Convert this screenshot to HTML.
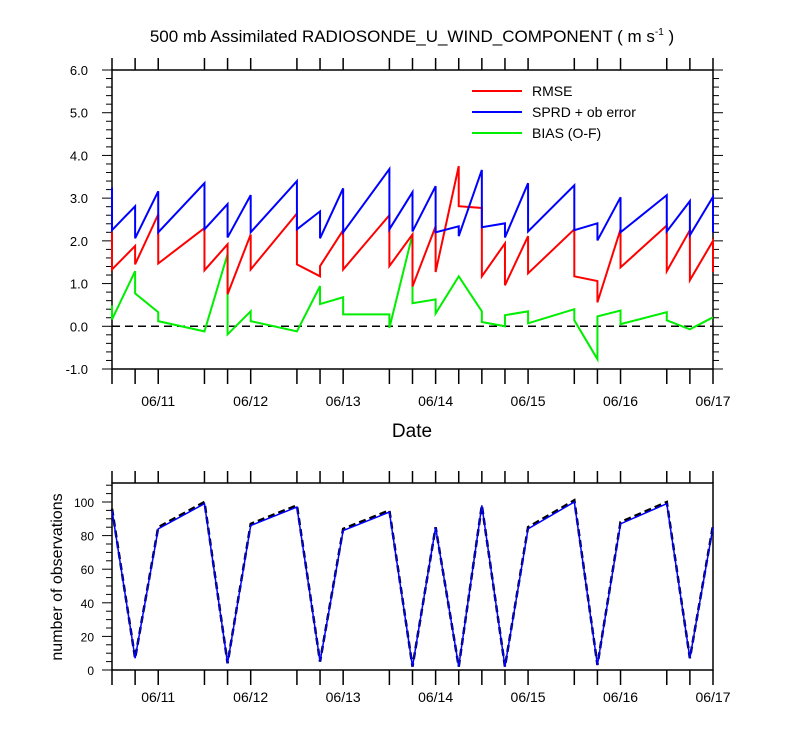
<!DOCTYPE html>
<html><head><meta charset="utf-8"><style>
body{margin:0;background:#fff;}
svg text{font-family:"Liberation Sans",sans-serif;fill:#000;}
</style></head><body>
<svg id="c" width="800" height="750" xmlns="http://www.w3.org/2000/svg"></svg>
<script>
// hours since 06/10 12Z
const times=[0,6,12,24,30,36,48,54,60,72,78,84,90,96,102,108,120,126,132,144,150,156];
const rmseArrive=[2.2,1.88,2.62,2.3,1.92,2.15,2.64,1.17,2.25,2.6,2.15,2.34,3.75,2.77,1.94,2.11,2.27,1.06,2.27,2.36,2.25,2.0];
const rmseDepart=[1.33,1.45,1.47,1.31,0.75,1.33,1.45,1.41,1.33,1.41,0.93,1.27,2.81,1.17,0.96,1.24,1.17,0.56,1.38,1.29,1.08,1.27];
const sprdArrive=[3.25,2.81,3.16,3.35,2.86,3.07,3.4,2.69,3.23,3.68,3.14,3.28,2.34,3.66,2.41,3.35,3.3,2.41,3.02,3.07,2.93,3.03];
const sprdDepart=[2.25,2.06,2.2,2.27,2.08,2.2,2.27,2.06,2.2,2.27,2.22,2.2,2.11,2.32,2.08,2.22,2.25,2.01,2.2,2.22,2.13,2.2];
const biasArrive=[0.49,1.29,0.33,-0.12,1.69,0.35,-0.12,0.94,0.68,0.28,2.15,0.63,1.17,0.35,0.0,0.35,0.4,-0.77,0.37,0.33,-0.07,0.21];
const biasDepart=[0.16,0.77,0.12,-0.12,-0.19,0.12,-0.12,0.52,0.28,-0.04,0.54,0.3,1.17,0.1,0.26,0.07,0.14,0.23,0.05,0.14,-0.07,0.21];
const obsUsed=[95,7,84,99,4,86,97,5,83,94,2,85,2,98,2,84,100,3,87,99,7,85];
const obsTotal=[96,7,85,100,4,87,98,5,84,95,2,85,2,98,2,85,101,3,88,100,7,86];
const yTicksTop=["-1.0","0.0","1.0","2.0","3.0","4.0","5.0","6.0"];
const yTicksBot=["0","20","40","60","80","100"];
const dateLabels=["06/11","06/12","06/13","06/14","06/15","06/16","06/17"];

const svg=document.getElementById('c');
const NS="http://www.w3.org/2000/svg";
function mk(tag,attrs,parent){const e=document.createElementNS(NS,tag);for(const k in attrs)e.setAttribute(k,attrs[k]);(parent||svg).appendChild(e);return e;}
const X0=112,X1=713;
function xs(h){return X0+(h)*(X1-X0)/156;}
const T0=70,T1=369; function yt(v){return T1-(v+1)*(T1-T0)/7;}
const B0=483,B1=670; function yb(v){return B1-v*1.68;}

// title
let t=mk('text',{x:412,y:42,'text-anchor':'middle','font-size':17});

t.innerHTML='500 mb Assimilated RADIOSONDE_U_WIND_COMPONENT ( m s<tspan dy="-7" font-size="10">-1</tspan><tspan dy="7"> )</tspan>';

function frame(top,bot,name,off){
  let r=mk('rect',{x:X0,y:top,width:X1-X0,height:bot-top,fill:'none',stroke:'#000','stroke-width':1.5});
  
  times.forEach(h=>{mk('line',{x1:xs(h),x2:xs(h),y1:top-12,y2:top,stroke:'#000','stroke-width':1.5});
    mk('line',{x1:xs(h),x2:xs(h),y1:bot,y2:bot+15,stroke:'#000','stroke-width':1.5});});
  dateLabels.forEach((d,i)=>{let e=mk('text',{x:xs(12+24*i),y:bot+off,'text-anchor':'middle','font-size':14});e.textContent=d;
    });
}
frame(T0,T1,'top-plot-frame',37);frame(B0,B1,'bottom-plot-frame',32);

// top y ticks
for(let v=-1;v<=6.001;v+=0.2){const y=yt(v);const maj=Math.abs(v-Math.round(v))<0.01;
  const L=maj?10:6;
  mk('line',{x1:X0-L,x2:X0,y1:y,y2:y,stroke:'#000','stroke-width':1});
  mk('line',{x1:X1,x2:X1+L,y1:y,y2:y,stroke:'#000','stroke-width':1});}
yTicksTop.forEach(s=>{let e=mk('text',{x:X0-24,y:yt(parseFloat(s))+5,'text-anchor':'end','font-size':13});e.textContent=s;
  });
mk('line',{x1:X0,x2:X1,y1:yt(0),y2:yt(0),stroke:'#000','stroke-width':1.5,'stroke-dasharray':'8,5'});

function stepLine(arr,dep,color,name){
  let pts=[];times.forEach((h,i)=>{pts.push(xs(h)+','+yt(arr[i]));pts.push(xs(h)+','+yt(dep[i]));});
  let p=mk('polyline',{points:pts.join(' '),fill:'none',stroke:color,'stroke-width':2});
  
}
stepLine(biasArrive,biasDepart,'#00ee00','bias-line');
stepLine(rmseArrive,rmseDepart,'#ff0000','rmse-line');
stepLine(sprdArrive,sprdDepart,'#0000ff','sprd-line');

// legend
[['RMSE','#ff0000'],['SPRD + ob error','#0000ff'],['BIAS (O-F)','#00ee00']].forEach((l,i)=>{
  const y=91+i*21;
  let g=mk('g',{});
  mk('line',{x1:472,x2:522,y1:y,y2:y,stroke:l[1],'stroke-width':2},g);
  let e=mk('text',{x:532,y:y+5,'font-size':14},g);e.textContent=l[0];});

let dx=mk('text',{x:412,y:437,'text-anchor':'middle','font-size':19});dx.textContent='Date';


// bottom y ticks
for(let v=0;v<=110;v+=5){const y=yb(v);const maj=v%20===0;const L=maj?10:6;
  mk('line',{x1:X0-L,x2:X0,y1:y,y2:y,stroke:'#000','stroke-width':1});}
yTicksBot.forEach(s=>{let e=mk('text',{x:X0-18,y:yb(parseFloat(s))+5,'text-anchor':'end','font-size':12});e.textContent=s;
  });
let yl=mk('text',{x:0,y:0,'text-anchor':'middle','font-size':16,transform:'translate(62,577) rotate(-90)'});yl.textContent='number of observations';


let pA=mk('polyline',{points:times.map((h,i)=>xs(h)+','+yb(obsTotal[i])).join(' '),fill:'none',stroke:'#000','stroke-width':2.5,'stroke-dasharray':'7,4'});

let pB=mk('polyline',{points:times.map((h,i)=>xs(h)+','+yb(obsUsed[i])).join(' '),fill:'none',stroke:'#0000ff','stroke-width':1.5});

</script>
</body></html>
